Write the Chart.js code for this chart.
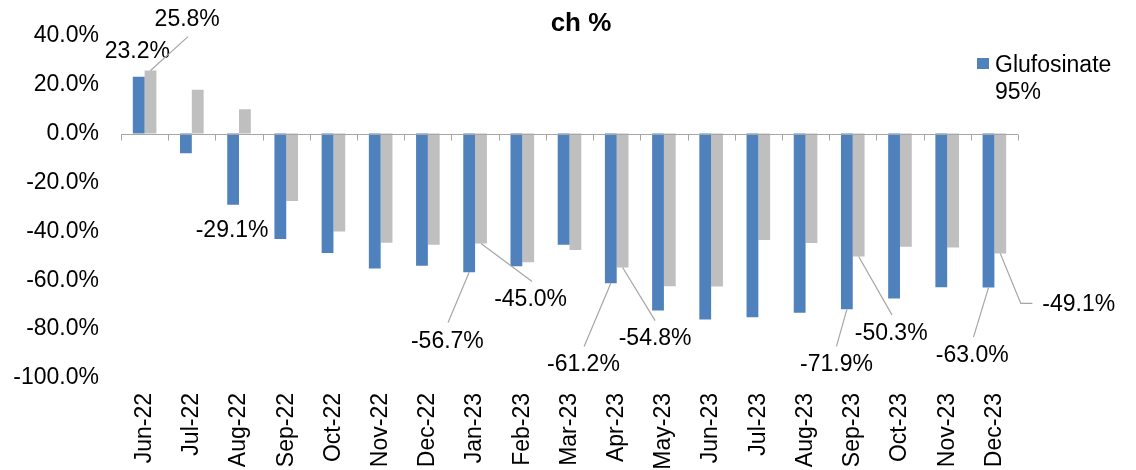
<!DOCTYPE html>
<html><head><meta charset="utf-8">
<script src="https://cdn.jsdelivr.net/npm/chart.js@4.4.1/dist/chart.umd.min.js"></script>
<style>html,body{margin:0;padding:0;background:#fff}#wrap{width:1136px;height:470px;position:relative}</style>
</head><body><div id="wrap"><canvas id="c" width="1136" height="470"></canvas></div>
<script>
const categories = ['Jun-22','Jul-22','Aug-22','Sep-22','Oct-22','Nov-22','Dec-22','Jan-23','Feb-23','Mar-23','Apr-23','May-23','Jun-23','Jul-23','Aug-23','Sep-23','Oct-23','Nov-23','Dec-23'];
const glufosinate95 = [23.2, -8.1, -29.1, -43.1, -48.9, -55.2, -54.1, -56.7, -54.3, -45.5, -61.2, -72.4, -76.1, -75.1, -73.3, -71.9, -67.5, -62.9, -63.0];
const series2 = [25.8, 17.9, 9.9, -27.6, -40.1, -44.7, -45.5, -45.0, -52.6, -47.6, -54.8, -62.5, -62.6, -43.5, -44.8, -50.3, -46.3, -46.6, -49.1];
const yTicks = [40, 20, 0, -20, -40, -60, -80, -100];
const legendLines = ['Glufosinate', '95%'];
const titleText = 'ch %';

const FONT = "'Liberation Sans', Arial, sans-serif";
const BLUE = '#4F81BD';
const GREY = '#BFBFBF';
const AXIS = '#A6A6A6';

// label placement (offsets from bar end, px) – styling only
const labelSpecs = [
  {ds:0, i:0,  dx:-1.4, dy:-25},
  {ds:1, i:0,  dx:36.7, dy:-50.4, leader:[[0.8,16.5]]},
  {ds:0, i:2,  dx:-1,   dy:26},
  {ds:1, i:7,  dx:49.6, dy:56,   leader:[[1.5,-18]]},
  {ds:0, i:7,  dx:-21.8,dy:69.4, leader:[[0.7,-19]]},
  {ds:0, i:10, dx:-27.4,dy:81.3, leader:[[0.7,-18]]},
  {ds:1, i:10, dx:32.5, dy:71.4, leader:[[0,-18.3]]},
  {ds:0, i:15, dx:-10.4,dy:55,   leader:[[0,-18]]},
  {ds:1, i:15, dx:32.5, dy:77.4, leader:[[0.8,-19]]},
  {ds:0, i:18, dx:-16.3,dy:68.2, leader:[[1.3,-18.6]]},
  {ds:1, i:18, dx:78.5, dy:51.1, leader:[[-58,-1.3],[-46.4,-1.3]]}
];

const fmt = v => v.toFixed(1) + '%';

const decor = {
  id: 'decor',
  afterDatasetsDraw(chart) {
    const ctx = chart.ctx;
    const xs = chart.scales.x, ys = chart.scales.y;
    const y0 = Math.round(ys.getPixelForValue(0)) + 0.5;
    ctx.save();
    ctx.strokeStyle = AXIS;
    ctx.lineWidth = 1;
    ctx.beginPath();
    ctx.moveTo(xs.left, y0); ctx.lineTo(xs.right, y0);
    const n = categories.length;
    for (let k = 0; k <= n; k++) {
      const x = Math.round(xs.left + k * (xs.right - xs.left) / n) + 0.5;
      ctx.moveTo(x, y0); ctx.lineTo(x, y0 + 6);
    }
    ctx.stroke();

    // data labels
    ctx.font = '23px ' + FONT;
    ctx.textAlign = 'center';
    ctx.textBaseline = 'middle';
    labelSpecs.forEach(s => {
      const el = chart.getDatasetMeta(s.ds).data[s.i];
      const val = chart.data.datasets[s.ds].data[s.i];
      const bx = el.x, by = el.y;
      const lx = bx + s.dx, ly = by + s.dy;
      if (s.leader) {
        ctx.strokeStyle = AXIS;
        ctx.lineWidth = 1.2;
        ctx.beginPath();
        ctx.moveTo(bx, by);
        s.leader.forEach(p => ctx.lineTo(lx + p[0], ly + p[1]));
        ctx.stroke();
      }
      ctx.fillStyle = '#000';
      ctx.fillText(fmt(val), lx, ly);
    });

    // title
    ctx.font = 'bold 26px ' + FONT;
    ctx.fillText(titleText, (chart.chartArea.left + chart.chartArea.right) / 2 + 11.5, 24);

    // legend
    const lgX = chart.chartArea.right - 41;
    ctx.fillStyle = BLUE;
    ctx.fillRect(lgX, 58, 12, 11);
    ctx.fillStyle = '#000';
    ctx.font = '23px ' + FONT;
    ctx.textAlign = 'left';
    ctx.textBaseline = 'alphabetic';
    legendLines.forEach((t, k) => ctx.fillText(t, lgX + 18, 72.3 + k * 27));
    ctx.restore();
  }
};

new Chart(document.getElementById('c'), {
  type: 'bar',
  data: {
    labels: categories,
    datasets: [
      {label: 'Glufosinate 95%', data: glufosinate95, backgroundColor: BLUE, borderWidth: 0},
      {label: '', data: series2, backgroundColor: GREY, borderWidth: 0}
    ]
  },
  options: {
    responsive: false,
    animation: false,
    events: [],
    layout: {padding: {top: 34, right: 118, left: 0, bottom: 0}},
    categoryPercentage: 0.5,
    barPercentage: 1.0,
    plugins: {legend: {display: false}, title: {display: false}, tooltip: {enabled: false}},
    scales: {
      x: {
        grid: {display: false, drawTicks: false},
        border: {display: false},
        ticks: {minRotation: 90, maxRotation: 90, autoSkip: false, padding: 15, color: '#000', font: {family: FONT, size: 23}},
        afterFit: s => { s.height = 92; }
      },
      y: {
        min: -100, max: 40,
        grid: {display: false, drawTicks: false},
        border: {display: false},
        afterBuildTicks: s => { s.ticks = yTicks.map(v => ({value: v})); },
        ticks: {padding: 22, color: '#000', font: {family: FONT, size: 23}, callback: v => fmt(v)},
        afterFit: s => { s.width = 121; }
      }
    }
  },
  plugins: [decor]
});
</script>
</body></html>
